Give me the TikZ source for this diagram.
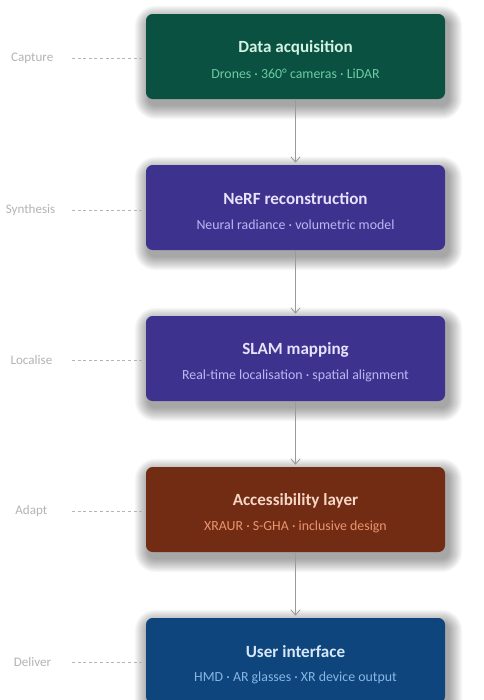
\documentclass[tikz,border=0pt]{standalone}
\usepackage{fontspec}
\setmainfont{Carlito}
\usetikzlibrary{arrows.meta,backgrounds}
\definecolor{acqfill}{HTML}{0A5141}
\definecolor{acqtitle}{HTML}{D2F2E2}
\definecolor{acqsub}{HTML}{6CCBA2}
\definecolor{nerffill}{HTML}{3D338E}
\definecolor{nerftitle}{HTML}{E6E3FB}
\definecolor{nerfsub}{HTML}{BDB6F2}
\definecolor{accfill}{HTML}{712C13}
\definecolor{acctitle}{HTML}{F6D6C6}
\definecolor{accsub}{HTML}{EC9470}
\definecolor{uifill}{HTML}{0D457C}
\definecolor{uititle}{HTML}{D8E7F8}
\definecolor{uisub}{HTML}{88B6E6}
\definecolor{stagegrey}{HTML}{B4B4B4}
\definecolor{flowgrey}{HTML}{9A9A9A}
\tikzset{
  stagebox/.style={rounded corners=5pt,minimum width=224.25pt,minimum height=63.75pt,inner sep=0pt},
  boxtitle/.style={font=\fontsize{12.8}{14}\selectfont\bfseries},
  boxsub/.style={font=\fontsize{10.4}{12}\selectfont},
  stagelabel/.style={text=stagegrey,font=\fontsize{9.8}{11}\selectfont},
  stageline/.style={stagegrey,dashed,dash pattern=on 2.2pt off 2pt,line width=0.5pt},
  flow/.style={flowgrey,line width=0.6pt,-{Straight Barb[length=4pt,width=7pt]}}
}
% soft shadow under a box
\newcommand{\boxshadow}[1]{%
  \foreach \r in {1,...,14}
    \fill[black,opacity=0.028,rounded corners=5pt+0.75*\r pt]
      ([shift={(3-\r,6+\r)}]#1.south west) rectangle ([shift={(3+\r,6-\r)}]#1.north east);}
\begin{document}
\begin{tikzpicture}[x=0.75pt,y=-0.75pt]
  \useasboundingbox (0,0) rectangle (483,700);
  \begin{scope}
    \clip (0,0) rectangle (483,700);
    % stage boxes
    \node[stagebox,fill=acqfill] (acq) at (295.5,56.5) {};
    \node[stagebox,fill=nerffill] (nerf) at (295.5,207.5) {};
    \node[stagebox,fill=nerffill] (slam) at (295.5,358.5) {};
    \node[stagebox,fill=accfill] (acc) at (295.5,509.5) {};
    \node[stagebox,fill=uifill] (ui) at (295.5,660.5) {};
    \begin{pgfonlayer}{background}
      \fill[white] (0,0) rectangle (483,700);
      \boxshadow{acq}
      \boxshadow{nerf}
      \boxshadow{slam}
      \boxshadow{acc}
      \boxshadow{ui}
    \end{pgfonlayer}
  \end{scope}
  % texts
  \node[boxtitle,text=acqtitle] (acqt) at (295.5,48) {Data acquisition};
  \node[boxsub,text=acqsub] (acqs) at (295.5,74) {Drones · 360° cameras · LiDAR};
  \node[boxtitle,text=nerftitle] (nerft) at (295.5,199) {NeRF reconstruction};
  \node[boxsub,text=nerfsub] (nerfs) at (295.5,225) {Neural radiance · volumetric model};
  \node[boxtitle,text=nerftitle] (slamt) at (295.5,350) {SLAM mapping};
  \node[boxsub,text=nerfsub] (slams) at (295.5,376) {Real-time localisation · spatial alignment};
  \node[boxtitle,text=acctitle] (acct) at (295.5,501) {Accessibility layer};
  \node[boxsub,text=accsub] (accs) at (295.5,527) {XRAUR · S-GHA · inclusive design};
  \node[boxtitle,text=uititle] (uit) at (295.5,652) {User interface};
  \node[boxsub,text=uisub] (uis) at (295.5,678) {HMD · AR glasses · XR device output};
  % flow arrows
  \draw[flow] (acq.south) -- ([yshift=1.5pt]nerf.north);
  \draw[flow] (nerf.south) -- ([yshift=1.5pt]slam.north);
  \draw[flow] (slam.south) -- ([yshift=1.5pt]acc.north);
  \draw[flow] (acc.south) -- ([yshift=1.5pt]ui.north);
  % stage labels
  \node[stagelabel,anchor=east] (cap) at (58,58) {Capture};
  \node[stagelabel,anchor=east] (syn) at (60,210) {Synthesis};
  \node[stagelabel,anchor=east] (loc) at (57,360) {Localise};
  \node[stagelabel,anchor=east] (ada) at (52,511) {Adapt};
  \node[stagelabel,anchor=east] (del) at (56,662) {Deliver};
  \draw[stageline] (72,58) -- ([xshift=-3pt]acq.west|-cap);
  \draw[stageline] (72,210) -- ([xshift=-3pt]nerf.west|-syn);
  \draw[stageline] (72,360) -- ([xshift=-3pt]slam.west|-loc);
  \draw[stageline] (72,511) -- ([xshift=-3pt]acc.west|-ada);
  \draw[stageline] (72,662) -- ([xshift=-3pt]ui.west|-del);
\end{tikzpicture}
\end{document}
